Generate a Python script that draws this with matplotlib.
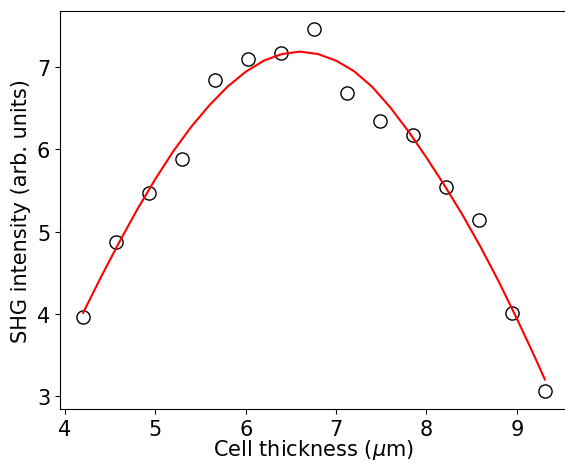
import matplotlib
matplotlib.use("Agg")
import matplotlib.pyplot as plt

# measured points
thickness = [4.20, 4.565, 4.93, 5.295, 5.66, 6.025, 6.39, 6.755,
             7.12, 7.485, 7.85, 8.215, 8.58, 8.945, 9.31]
shg = [3.96, 4.87, 5.47, 5.88, 6.84, 7.10, 7.17, 7.46,
       6.69, 6.35, 6.18, 5.54, 5.14, 4.01, 3.06]

# fitted curve
fit_x = [4.2, 4.4, 4.6, 4.8, 5.0, 5.2, 5.4, 5.6, 5.8, 6.0, 6.2, 6.4, 6.6,
         6.8, 7.0, 7.2, 7.4, 7.6, 7.8, 8.0, 8.2, 8.4, 8.6, 8.8, 9.0, 9.2, 9.31]
fit_y = [4.01, 4.45, 4.87, 5.27, 5.64, 5.98, 6.28, 6.54, 6.765, 6.945, 7.08,
         7.16, 7.19, 7.16, 7.08, 6.95, 6.76, 6.51, 6.22, 5.90, 5.56, 5.20,
         4.81, 4.39, 3.94, 3.47, 3.20]

fig = plt.figure(figsize=(5.65, 4.64), dpi=100)
ax = fig.add_axes([0.1062, 0.1164, 0.899, 0.857])

ax.plot(thickness, shg, "o", mfc="none", mec="black", ms=9.5, mew=1.0)
ax.plot(fit_x, fit_y, color="red", lw=1.5)

ax.set_xlabel("Cell thickness ($\\mu$m)", fontsize=15, labelpad=-1)
ax.set_ylabel("SHG intensity (arb. units)", fontsize=15)
ax.tick_params(labelsize=15)
ax.set_xticks([4, 5, 6, 7, 8, 9])
ax.set_yticks([3, 4, 5, 6, 7])

fig.savefig("out.png", dpi=100)
